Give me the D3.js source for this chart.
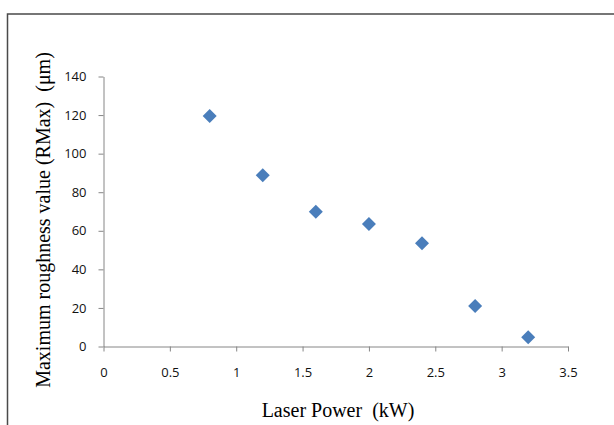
<!DOCTYPE html>
<html>
<head>
<meta charset="utf-8">
<script src="https://cdn.jsdelivr.net/npm/d3@7"></script>
<style>
  html, body { margin: 0; padding: 0; background: #fff; }
  svg { display: block; }
</style>
</head>
<body>
<svg id="chart" width="614" height="425"></svg>
<script>
const laserPower = [0.8, 1.2, 1.6, 2.0, 2.4, 2.8, 3.2];
const roughness = [119.5, 88.8, 69.9, 63.5, 53.5, 21.0, 4.8];
const xTicks = [0, 0.5, 1, 1.5, 2, 2.5, 3, 3.5];
const yTicks = [0, 20, 40, 60, 80, 100, 120, 140];
const xTitle = "Laser Power  (kW)";
const yTitle = "Maximum roughness value (RMax)  (\u03bcm)";

const svg = d3.select("#chart");

// outer frame (top and left edges visible)
svg.append("path")
  .attr("d", "M7.5,425 L7.5,14 L614,14")
  .attr("fill", "none")
  .attr("stroke", "#4a4a4a")
  .attr("stroke-width", 1.5);

const x = d3.scaleLinear().domain([0, 3.5]).range([103.5, 568]);
const y = d3.scaleLinear().domain([0, 140]).range([346.5, 76.5]);

const axisColor = "#868686";
const tickFont = "'Open Sans', sans-serif";

const gx = svg.append("g")
  .attr("transform", `translate(0,${y(0)})`)
  .call(d3.axisBottom(x).tickValues(xTicks).tickSize(5).tickSizeOuter(0).tickPadding(16)
    .tickFormat(d => String(d)));
const gy = svg.append("g")
  .attr("transform", `translate(${x(0)},0)`)
  .call(d3.axisLeft(y).tickValues(yTicks).tickSize(5).tickSizeOuter(0).tickPadding(12)
    .tickFormat(d => String(d)));

[gx, gy].forEach(g => {
  g.select(".domain").attr("stroke", axisColor);
  g.selectAll(".tick line").attr("stroke", axisColor);
  g.selectAll(".tick text")
    .attr("fill", "#111")
    .style("font-family", tickFont)
    .style("font-size", "13px");
});

// markers (diamonds)
svg.append("g").selectAll("path")
  .data(laserPower.map((v, i) => [v, roughness[i]]))
  .join("path")
  .attr("transform", d => `translate(${x(d[0])},${y(d[1])})`)
  .attr("d", "M0,-7L7,0L0,7L-7,0Z")
  .attr("fill", "#4a7ebb");

// axis titles
svg.append("text")
  .attr("x", 338)
  .attr("y", 417)
  .attr("text-anchor", "middle")
  .style("font-family", "'Liberation Serif', 'Times New Roman', serif")
  .style("font-size", "20px")
  .style("white-space", "pre")
  .attr("fill", "#000")
  .text(xTitle);

svg.append("text")
  .attr("transform", "translate(50,220) rotate(-90)")
  .attr("text-anchor", "middle")
  .style("font-family", "'Liberation Serif', 'Times New Roman', serif")
  .style("font-size", "20px")
  .style("white-space", "pre")
  .attr("fill", "#000")
  .text(yTitle);
</script>
</body>
</html>
